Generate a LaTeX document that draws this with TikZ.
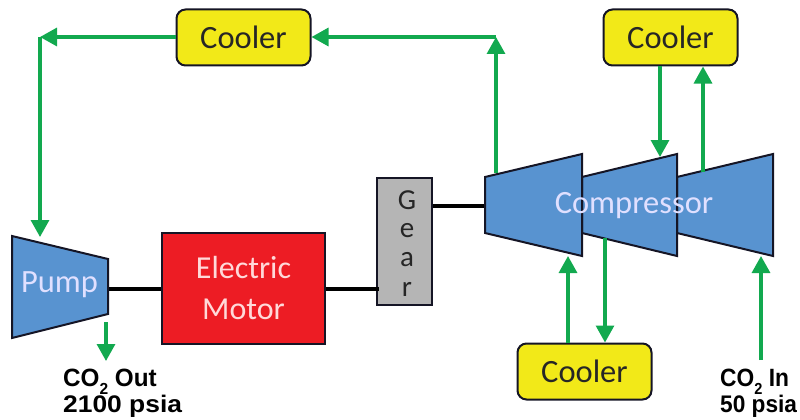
\documentclass[tikz,border=0pt]{standalone}
\usepackage{fontspec}
\setmainfont{Carlito}
\newfontfamily\capA{Liberation Sans Bold}[FakeStretch=0.97]
\newfontfamily\capB{Liberation Sans Bold}[FakeStretch=1.10]
\newfontfamily\capC{Liberation Sans Bold}[FakeStretch=0.91]
\newfontfamily\capD{Liberation Sans Bold}[FakeStretch=0.945]
\usetikzlibrary{arrows.meta}
\definecolor{flowgreen}{HTML}{12A94F}
\definecolor{compblue}{HTML}{5893D0}
\definecolor{motorred}{HTML}{ED1C24}
\definecolor{coolyellow}{HTML}{F2E918}
\definecolor{geargray}{HTML}{B5B5B5}
\definecolor{edgeblack}{HTML}{151525}
\newcommand{\subtwo}{\smash{\raisebox{-0.3em}{\fontsize{16}{16}\selectfont 2}}}
\tikzset{
  x=1pt,y=-1pt,
  flow/.style={draw=flowgreen,line width=3.2pt,-{Triangle[length=17pt,width=18pt]}},
  shaft/.style={draw=black,line width=4pt},
  trap/.style={draw=edgeblack,line width=2pt,fill=compblue,line join=miter},
  coolerbox/.style={draw=edgeblack,line width=2pt,fill=coolyellow,rounded corners=9pt,minimum width=134pt,minimum height=56pt,inner sep=0pt,text=black!85,font=\fontsize{32.5}{32.5}\selectfont},
  motorbox/.style={draw=edgeblack,line width=2pt,fill=motorred,minimum width=163pt,minimum height=111pt,inner sep=0pt,align=center,text=white!85!red,font=\fontsize{32}{41}\selectfont},
  gearbox/.style={draw=edgeblack,line width=2pt,fill=geargray,minimum width=55pt,minimum height=127pt,inner sep=0pt},
  gearletter/.style={text=black!85,font=\fontsize{29}{29}\selectfont,inner sep=0pt},
  whitelabel/.style={text=white!88!blue,inner sep=0pt,font=\fontsize{32.5}{32.5}\selectfont},
  bigcap/.style={inner sep=0pt,anchor=south west,align=left,text=black},
}
\begin{document}
\begin{tikzpicture}
\useasboundingbox (0,0) rectangle (800,420);
\coordinate (pumpin) at (40,237);
\coordinate (pumpout) at (106,322);
\coordinate (pumpshaft) at (108,289);
\coordinate (motorshaft) at (379,289);
\coordinate (compshaft) at (485,206);
\coordinate (dischargeup) at (496,173);
\coordinate (corner) at (496,37);
\coordinate (cornerleft) at (40,37);
\coordinate (stagetwoin) at (660,157);
\coordinate (stagethreeout) at (703,172);
\coordinate (stageoneout) at (568,256);
\coordinate (stagetwoout) at (605,238);
\coordinate (intake) at (761,256);
\coordinate (intakestart) at (761,360);
\coordinate (outtip) at (106,361);
\node[motorbox] (motor) at (243.5,288.5) {Electric\\Motor};
\node[gearbox] (gear) at (404.5,241.5) {};
\node[coolerbox] (coolerA) at (243.5,37.5) {Cooler};
\node[coolerbox] (coolerB) at (670.5,37.5) {Cooler};
\node[coolerbox] (coolerC) at (584.5,371.5) {Cooler};
\draw[shaft] (pumpshaft) -- (motor.west |- pumpshaft);
\draw[shaft] (motor.east |- pumpshaft) -- (motorshaft);
\draw[shaft] (gear.east |- compshaft) -- (compshaft);
\draw[trap] (12,236) -- (108,259) -- (108,314) -- (12,338) -- cycle;
\draw[trap] (677,177) -- (773,154) -- (773,256) -- (677,233) -- cycle;
\draw[trap] (582,177) -- (677,154) -- (677,256) -- (582,233) -- cycle;
\draw[trap] (485,177) -- (582,154) -- (582,256) -- (485,233) -- cycle;
\node[whitelabel] (pumplabel) at (59.5,285) {Pump};
\node[whitelabel] (complabel) at (634,206) {Compressor};
\node[gearletter] (g1) at (407,200) {G};
\node[gearletter] (g2) at (407,231) {e};
\node[gearletter] (g3) at (407,260) {a};
\node[gearletter] (g4) at (407,289) {r};
\draw[flow] (dischargeup) -- (corner);
\draw[flow] (corner) -- (coolerA.east |- corner);
\draw[flow] (coolerA.west |- cornerleft) -- (cornerleft);
\draw[flow] (cornerleft) -- (pumpin);
\draw[flow] (pumpout) -- (outtip);
\draw[flow] (coolerB.south -| stagetwoin) -- (stagetwoin);
\draw[flow] (stagethreeout) -- (coolerB.south -| stagethreeout);
\draw[flow] (coolerC.north -| stageoneout) -- (stageoneout);
\draw[flow] (stagetwoout) -- (coolerC.north -| stagetwoout);
\draw[flow] (intakestart) -- (intake);
\node[bigcap,font=\fontsize{24}{26}\selectfont] (outcap) at (63,418) {{\capA\fontsize{25}{26}\selectfont CO\subtwo{} Out}\\{\capB\fontsize{24}{26}\selectfont 2100 psia}};
\node[bigcap,font=\fontsize{24}{26}\selectfont] (incap) at (720,418) {{\capC\fontsize{25}{26}\selectfont CO\subtwo{} In}\\{\capD\fontsize{24}{26}\selectfont 50 psia}};
\end{tikzpicture}
\end{document}
